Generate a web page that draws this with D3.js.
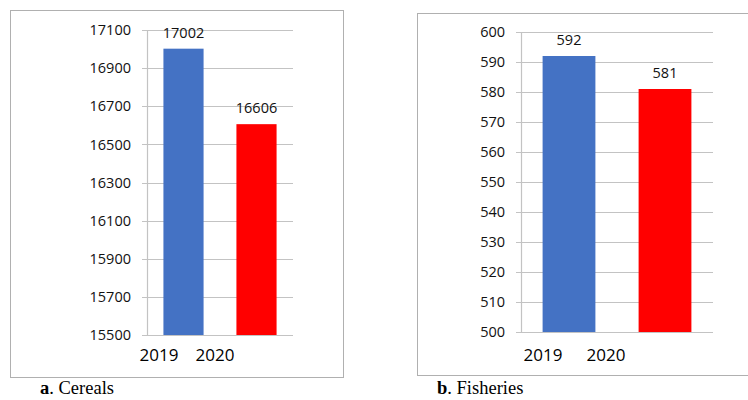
<!DOCTYPE html>
<html><head><meta charset="utf-8">
<script src="https://cdn.jsdelivr.net/npm/d3@7"></script>
<style>
body{margin:0;background:#fff;}
svg{display:block;}
</style></head>
<body><svg id="c" width="748" height="400"></svg>
<script>
const years = ["2019", "2020"];
const cerealsValues = [17002, 16606];
const fisheriesValues = [592, 581];
const cerealsTicks = [15500, 15700, 15900, 16100, 16300, 16500, 16700, 16900, 17100];
const fisheriesTicks = [500, 510, 520, 530, 540, 550, 560, 570, 580, 590, 600];
const barColors = ["#4472C4", "#FF0000"];
const captions = [{b: "a", t: ". Cereals"}, {b: "b", t: ". Fisheries"}];

const svg = d3.select("#c");
const sans = "'Open Sans', 'Liberation Sans', Arial, sans-serif";

function panel(cfg) {
  const g = svg.append("g");
  // frame
  g.append("rect").attr("x", cfg.frame[0] + 0.5).attr("y", cfg.frame[1] + 0.5)
    .attr("width", cfg.frame[2]).attr("height", cfg.frame[3])
    .attr("fill", "none").attr("stroke", "#b0b0b0").attr("stroke-width", 1);

  const p = 0.45;
  const x = d3.scaleBand().domain(years).range([cfg.x0, cfg.x1]).paddingInner(p).paddingOuter(p / 2);
  const y = d3.scaleLinear().domain([cfg.ticks[0], cfg.ticks[cfg.ticks.length - 1]]).range([cfg.y0, cfg.y1]);

  // gridlines
  g.append("g").selectAll("line").data(cfg.ticks).join("line")
    .attr("x1", cfg.x0 - 5).attr("x2", cfg.x1)
    .attr("y1", d => Math.round(y(d)) + 0.5).attr("y2", d => Math.round(y(d)) + 0.5)
    .attr("stroke", "#c3c3c3").attr("stroke-width", 1.2);
  // y axis line
  g.append("line").attr("x1", cfg.x0 + 0.5).attr("x2", cfg.x0 + 0.5)
    .attr("y1", y.range()[1]).attr("y2", y.range()[0])
    .attr("stroke", "#c3c3c3").attr("stroke-width", 1.2);
  // tick labels
  g.append("g").selectAll("text").data(cfg.ticks).join("text")
    .attr("x", cfg.labelRight).attr("y", d => y(d)).attr("dy", "0.36em")
    .attr("text-anchor", "end").attr("font-family", sans).attr("font-size", 14.5)
    .attr("fill", "#111").text(d => d);

  // bars
  g.append("g").selectAll("rect").data(cfg.values).join("rect")
    .attr("x", (d, i) => x(years[i]))
    .attr("y", d => y(d)).attr("width", x.bandwidth())
    .attr("height", d => y(cfg.ticks[0]) - y(d))
    .attr("fill", (d, i) => barColors[i]);
  // value labels
  g.append("g").selectAll("text").data(cfg.values).join("text")
    .attr("x", (d, i) => x(years[i]) + x.bandwidth() / 2)
    .attr("y", d => y(d) - 11)
    .attr("text-anchor", "middle").attr("font-family", sans).attr("font-size", 14.5)
    .attr("fill", "#111").text(d => d);

  // category labels
  const xl = d3.scalePoint().domain(years).range(cfg.catRange);
  g.append("g").selectAll("text").data(years).join("text")
    .attr("x", d => xl(d)).attr("y", 361)
    .attr("text-anchor", "middle").attr("font-family", sans).attr("font-size", 17)
    .attr("fill", "#000").text(d => d);

  // caption
  const cap = g.append("text").attr("x", cfg.capX).attr("y", 394)
    .attr("font-family", "'Liberation Serif', 'Times New Roman', serif").attr("font-size", 18.5).attr("fill", "#000");
  cap.append("tspan").attr("font-weight", "bold").text(cfg.caption.b);
  cap.append("tspan").text(cfg.caption.t);
}

panel({
  frame: [10, 10, 333, 367], x0: 147, x1: 293, y0: 335, y1: 30,
  ticks: cerealsTicks, values: cerealsValues, labelRight: 131,
  catRange: [159, 215], capX: 40, caption: captions[0]
});
panel({
  frame: [417, 13, 340, 362], x0: 521, x1: 713, y0: 332, y1: 32,
  ticks: fisheriesTicks, values: fisheriesValues, labelRight: 505,
  catRange: [543, 606], capX: 437, caption: captions[1]
});
</script></body></html>
